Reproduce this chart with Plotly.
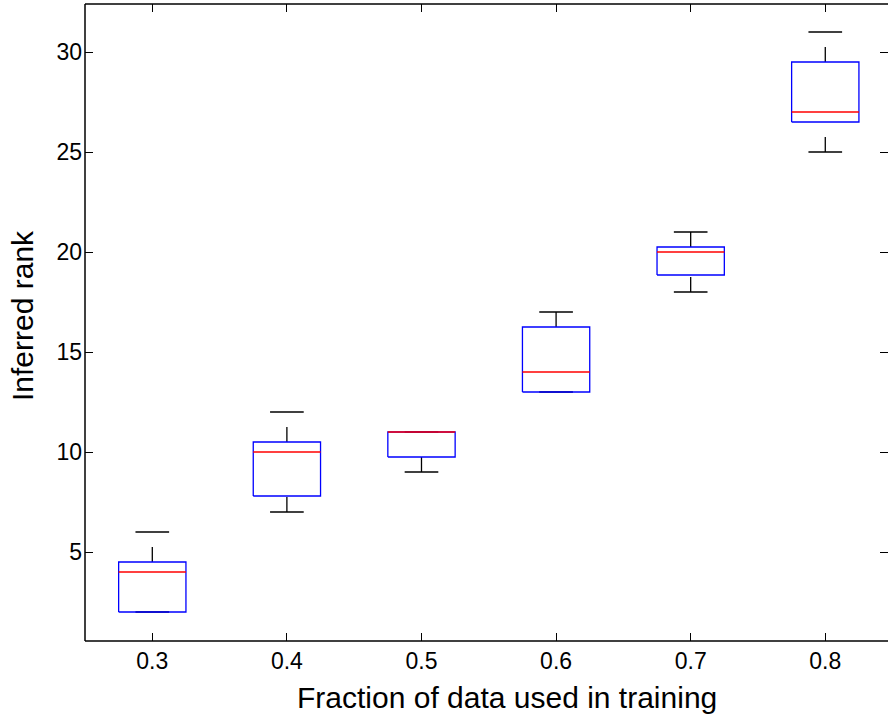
import plotly.graph_objects as go

categories = ["0.3", "0.4", "0.5", "0.6", "0.7", "0.8"]
lower_whisker = [2, 7, 9, 13, 18, 25]
q1 = [2, 7.8, 9.75, 13, 18.85, 26.5]
median = [4, 10, 11, 14, 20, 27]
q3 = [4.5, 10.5, 11, 16.25, 20.25, 29.5]
upper_whisker = [6, 12, 11, 17, 21, 31]

BOX_HALF = 0.25
CAP_HALF = 0.125
FONT = "Liberation Sans, Arial, sans-serif"

fig = go.Figure()
positions = list(range(1, len(categories) + 1))

def add_line(xs, ys, color, dash="solid"):
    fig.add_trace(go.Scatter(x=xs, y=ys, mode="lines",
                             line=dict(color=color, width=1.3, dash=dash),
                             hoverinfo="skip", showlegend=False))

# whiskers (dashed, drawn from low value to high value)
for p, lo, a, b, hi in zip(positions, lower_whisker, q1, q3, upper_whisker):
    if hi > b:
        add_line([p, p], [b, hi], "black", "15px,15px")
    if lo < a:
        add_line([p, p], [lo, a], "black", "15px,15px")
# caps
for p, lo, hi in zip(positions, lower_whisker, upper_whisker):
    add_line([p - CAP_HALF, p + CAP_HALF], [hi, hi], "black")
    add_line([p - CAP_HALF, p + CAP_HALF], [lo, lo], "black")
# boxes
for p, a, b in zip(positions, q1, q3):
    add_line([p - BOX_HALF, p + BOX_HALF, p + BOX_HALF, p - BOX_HALF, p - BOX_HALF],
             [a, a, b, b, a], "#0000ff")
# medians
for p, m in zip(positions, median):
    add_line([p - BOX_HALF, p + BOX_HALF], [m, m], "#ff0000")

fig.update_layout(
    width=888, height=715,
    margin=dict(l=85, r=0, t=4, b=74),
    plot_bgcolor="white", paper_bgcolor="white",
    font=dict(family=FONT, size=23, color="black"),
    showlegend=False,
    xaxis=dict(range=[0.5, 6.466], tickvals=positions, ticktext=categories,
               ticks="inside", ticklen=8, tickcolor="black", tickwidth=1,
               mirror="ticks", showline=False, showgrid=False, zeroline=False,
               tickfont=dict(size=23), ticklabelstandoff=4),
    yaxis=dict(range=[0.55, 32.4], tickvals=[5, 10, 15, 20, 25, 30],
               ticks="inside", ticklen=8, tickcolor="black", tickwidth=1,
               mirror="ticks", showline=False, showgrid=False, zeroline=False,
               tickfont=dict(size=23), ticklabelstandoff=2),
)

# axis frame lines (left, bottom, top)
fig.add_shape(type="line", xref="paper", yref="paper", x0=0, x1=0, y0=0, y1=1,
              line=dict(color="black", width=1.5))
fig.add_shape(type="line", xref="paper", yref="paper", x0=0, x1=1, y0=0, y1=0,
              line=dict(color="black", width=1.5))
fig.add_shape(type="line", xref="paper", yref="paper", x0=0, x1=1, y0=1, y1=1,
              line=dict(color="black", width=1.5))

fig.add_annotation(text="Fraction of data used in training", xref="paper", yref="paper",
                   x=(507 - 85) / (888 - 85), y=0, yshift=-56, yanchor="middle",
                   showarrow=False, font=dict(size=30))
fig.add_annotation(text="Inferred rank", xref="paper", yref="paper", textangle=-90,
                   x=0, xshift=-63, xanchor="center", y=(641 - 316) / 637, yanchor="middle",
                   showarrow=False, font=dict(size=30))

fig.write_html("out.html")
